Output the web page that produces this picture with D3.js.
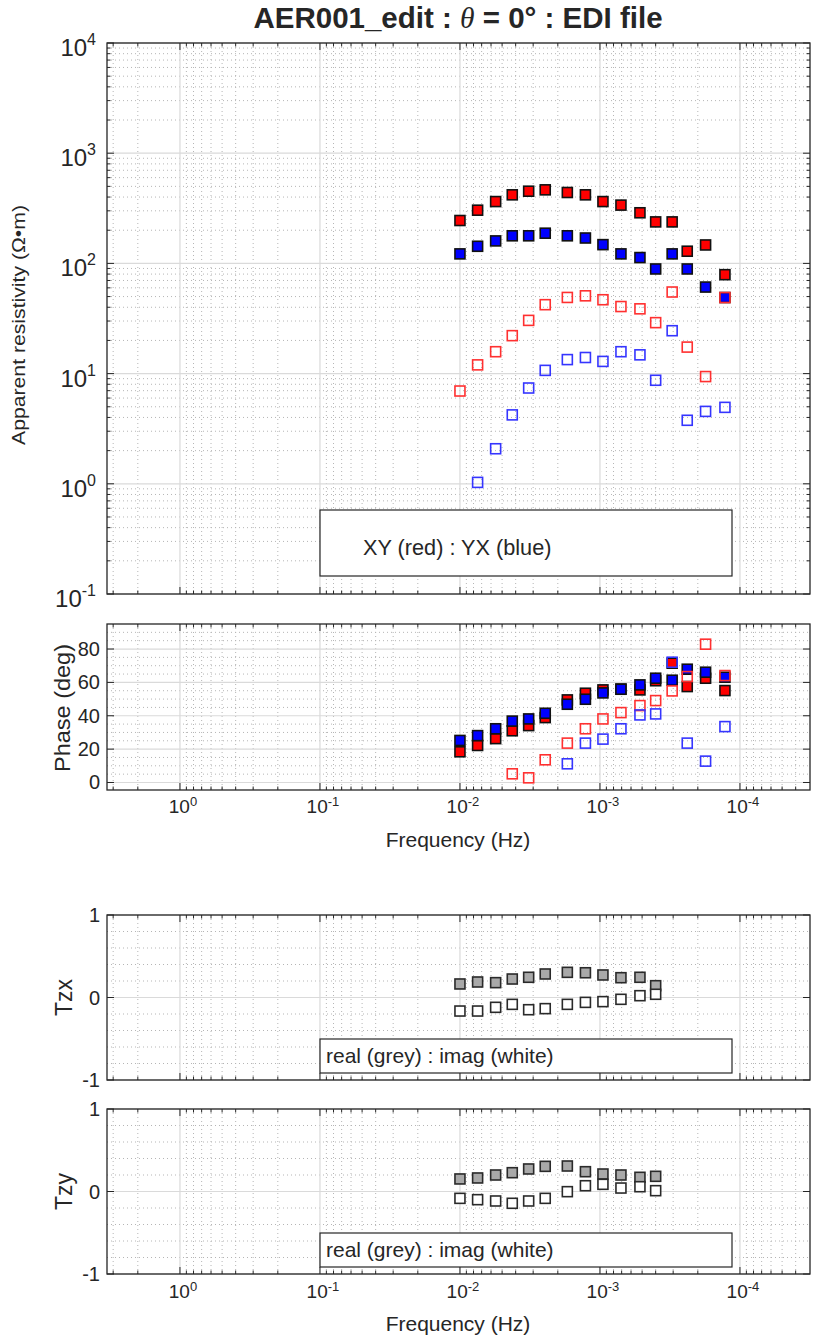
<!DOCTYPE html>
<html><head><meta charset="utf-8">
<script src="https://cdn.jsdelivr.net/npm/d3@7"></script>
<style>
body{margin:0;background:#fff}
text{font-family:"Liberation Sans",Arial,sans-serif;fill:#262626}
</style>
</head><body><svg id="c" width="817" height="1336"></svg>
<script>
// ---------------- data ----------------
const freqs = [0.0100, 0.00748, 0.00556, 0.00423, 0.00323, 0.00246, 0.00171, 0.00127,
               0.000952, 0.000708, 0.000518, 0.000400, 0.000305, 0.000238, 0.000176, 0.000128];
const rhoXY     = [245, 304, 364, 419, 452, 465, 440, 419, 364, 338, 288, 238, 238, 129, 147, 79];
const rhoYX     = [122, 143, 160, 178, 178, 188, 178, 170, 148, 122, 113, 89, 122, 89, 61, 49];
const rhoXYopen = [6.95, 12.0, 15.8, 22.1, 30.4, 42.2, 49.1, 50.8, 46.8, 40.6, 38.7, 29.0, 55.0, 17.4, 9.4, 49.0];
const rhoYXopen = [null, 1.03, 2.08, 4.22, 7.4, 10.7, 13.4, 14.0, 12.9, 15.8, 14.8, 8.7, 24.5, 3.77, 4.54, 4.94];
const phiXY     = [18.4, 22.2, 26.3, 31.0, 34.1, 38.9, 49.5, 53.5, 55.5, 56.0, 55.5, 61.0, 71.5, 57.5, 62.5, 55.1];
const phiYX     = [25.2, 28.1, 32.2, 36.8, 38.1, 41.5, 46.9, 49.9, 53.7, 55.9, 58.5, 62.5, 61.3, 67.9, 66.1, 63.1];
const phiXYopen = [null, null, null, 5.2, 2.8, 13.6, 23.6, 32.2, 38.1, 41.9, 46.1, 49.1, 54.9, 63.5, 82.9, 64.1];
const phiYXopen = [null, null, null, null, null, null, 11.2, 23.6, 26.0, 32.2, 40.5, 41.1, 72.1, 23.6, 12.8, 33.5];
const tzxRe = [0.164, 0.188, 0.180, 0.224, 0.245, 0.285, 0.305, 0.300, 0.273, 0.240, 0.245, 0.143];
const tzxIm = [-0.164, -0.164, -0.119, -0.083, -0.148, -0.135, -0.083, -0.059, -0.050, -0.022, 0.022, 0.039];
const tzyRe = [0.152, 0.164, 0.200, 0.228, 0.273, 0.305, 0.309, 0.240, 0.212, 0.200, 0.172, 0.184];
const tzyIm = [-0.083, -0.099, -0.115, -0.143, -0.115, -0.083, -0.002, 0.070, 0.087, 0.042, 0.058, 0.010];
const xTickExp = [0, -1, -2, -3, -4];
const rhoTickExp = [4, 3, 2, 1, 0, -1];
const phaseTicks = [0, 20, 40, 60, 80];
const tipTicks = [1, 0, -1];
const titleText = "AER001_edit : ";
const legendRho = "XY (red) : YX (blue)";
const legendTip = "real (grey) : imag (white)";

// ---------------- layout ----------------
const svg = d3.select("#c");
const X0 = 107, X1 = 810;
const x = d3.scaleLog().domain([3.32, 3.16e-5]).range([X0, X1]);
const AX = "#262626";

const majorX = [], minorX = [];
for (let d = -5; d <= 1; d++) {
  majorX.push(Math.pow(10, d));
  for (let k = 2; k <= 9; k++) minorX.push(k * Math.pow(10, d));
}
const [fLo, fHi] = [3.16e-5, 3.32];
const inX = v => v >= fLo * 0.999 && v <= fHi * 1.001;

function panel(y0, y1, y, yMajor, yMinor, yMinorTicks) {
  const g = svg.append("g");
  const mx = minorX.filter(inX), Mx = majorX.filter(inX);
  g.selectAll(null).data(mx).join("line")
    .attr("x1", d => x(d)).attr("x2", d => x(d)).attr("y1", y0).attr("y2", y1)
    .attr("stroke", "#b5b5b5").attr("stroke-width", 1).attr("stroke-dasharray", "1,3");
  g.selectAll(null).data(yMinor).join("line")
    .attr("x1", X0).attr("x2", X1).attr("y1", d => y(d)).attr("y2", d => y(d))
    .attr("stroke", "#b5b5b5").attr("stroke-width", 1).attr("stroke-dasharray", "1,3");
  g.selectAll(null).data(Mx).join("line")
    .attr("x1", d => x(d)).attr("x2", d => x(d)).attr("y1", y0).attr("y2", y1)
    .attr("stroke", "#dadada").attr("stroke-width", 1.2);
  g.selectAll(null).data(yMajor).join("line")
    .attr("x1", X0).attr("x2", X1).attr("y1", d => y(d)).attr("y2", d => y(d))
    .attr("stroke", "#dadada").attr("stroke-width", 1.2);
  const tk = (data, len) => {
    g.selectAll(null).data(data).join("path")
      .attr("d", d => `M${x(d)},${y1}v${-len}M${x(d)},${y0}v${len}`)
      .attr("stroke", AX).attr("stroke-width", 1);
  };
  tk(Mx, 7); tk(mx, 3.5);
  const tky = (data, len) => {
    g.selectAll(null).data(data).join("path")
      .attr("d", d => `M${X0},${y(d)}h${len}M${X1},${y(d)}h${-len}`)
      .attr("stroke", AX).attr("stroke-width", 1);
  };
  tky(yMajor, 7);
  if (yMinorTicks) tky(yMinor, 3.5);
  g.append("rect").attr("x", X0).attr("y", y0).attr("width", X1 - X0).attr("height", y1 - y0)
    .attr("fill", "none").attr("stroke", AX).attr("stroke-width", 1.3);
  return g;
}

function markers(g, xs, ys, y, opt) {
  const s = 10;
  const pts = xs.map((f, i) => [f, ys[i]]).filter(p => p[1] !== null && p[1] !== undefined);
  g.selectAll(null).data(pts).join("rect")
    .attr("x", d => x(d[0]) - s / 2).attr("y", d => y(d[1]) - s / 2)
    .attr("width", s).attr("height", s)
    .attr("fill", opt.fill).attr("stroke", opt.stroke).attr("stroke-width", 1.6);
}

function xTickLabels(yBase) {
  xTickExp.forEach(e => {
    const t = svg.append("text").attr("x", x(Math.pow(10, e)) + 3).attr("y", yBase)
      .attr("text-anchor", "middle").attr("font-size", 19);
    t.append("tspan").text("10");
    t.append("tspan").attr("font-size", 13).attr("dy", -7).text(String(e));
  });
}

// ---------------- title ----------------
const title = svg.append("text").attr("x", 458).attr("y", 28).attr("text-anchor", "middle")
  .attr("font-size", 29.5).attr("font-weight", "bold");
title.append("tspan").text(titleText);
title.append("tspan").attr("font-family", "'Liberation Serif',serif").attr("font-style", "italic").attr("font-weight", "normal").text("θ");
title.append("tspan").text(" = 0° : EDI file");

// ---------------- resistivity ----------------
const R0 = 43, R1 = 594;
const yR = d3.scaleLog().domain([0.1, 1e4]).range([R1, R0]);
const rMajor = rhoTickExp.map(e => Math.pow(10, e));
const rMinor = [];
for (let d = -1; d < 4; d++) for (let k = 2; k <= 9; k++) rMinor.push(k * Math.pow(10, d));
const gR = panel(R0, R1, yR, rMajor, rMinor, true);
markers(gR, freqs, rhoXY, yR, {fill: "#ff0000", stroke: "#111"});
markers(gR, freqs, rhoYX, yR, {fill: "#0000ff", stroke: "#111"});
markers(gR, freqs, rhoXYopen, yR, {fill: "none", stroke: "#ff3030"});
markers(gR, freqs, rhoYXopen, yR, {fill: "none", stroke: "#3535ff"});
rhoTickExp.forEach(e => {
  const t = svg.append("text").attr("x", 96).attr("y", yR(Math.pow(10, e)) + 13)
    .attr("text-anchor", "end").attr("font-size", 24);
  t.append("tspan").text("10");
  t.append("tspan").attr("font-size", 16).attr("dy", -11).text(String(e));
});
svg.append("text").attr("transform", `translate(25,325) rotate(-90)`)
  .attr("text-anchor", "middle").attr("font-size", 17.5)
  .attr("textLength", 240).attr("lengthAdjust", "spacingAndGlyphs")
  .text("Apparent resistivity (Ω•m)");
svg.append("rect").attr("x", 320).attr("y", 510).attr("width", 412).attr("height", 66)
  .attr("fill", "#fff").attr("stroke", AX).attr("stroke-width", 1.2);
svg.append("text").attr("x", 363).attr("y", 555).attr("font-size", 21.7).text(legendRho);

// ---------------- phase ----------------
const P0 = 624, P1 = 790;
const yP = d3.scaleLinear().domain([-4.5, 95]).range([P1, P0]);
const pMinor = d3.range(5, 95, 5).filter(v => v % 20 !== 0);
const gP = panel(P0, P1, yP, phaseTicks, pMinor, false);
markers(gP, freqs, phiXY, yP, {fill: "#ff0000", stroke: "#111"});
markers(gP, freqs, phiYX, yP, {fill: "#0000ff", stroke: "#111"});
markers(gP, freqs, phiXYopen, yP, {fill: "none", stroke: "#ff3030"});
markers(gP, freqs, phiYXopen, yP, {fill: "none", stroke: "#3535ff"});
phaseTicks.forEach(v => {
  svg.append("text").attr("x", 100).attr("y", yP(v) + 7).attr("text-anchor", "end")
    .attr("font-size", 20).text(String(v));
});
svg.append("text").attr("transform", `translate(70,${(P0 + P1) / 2 + 1}) rotate(-90)`)
  .attr("text-anchor", "middle").attr("font-size", 22).attr("textLength", 128)
  .attr("lengthAdjust", "spacingAndGlyphs").text("Phase (deg)");
xTickLabels(813);
svg.append("text").attr("x", 458).attr("y", 847).attr("text-anchor", "middle")
  .attr("font-size", 21).text("Frequency (Hz)");

// ---------------- tippers ----------------
function tipper(y0, y1, re, im, label) {
  const y = d3.scaleLinear().domain([-1, 1]).range([y1, y0]);
  const tMinor = [-0.8, -0.6, -0.4, -0.2, 0.2, 0.4, 0.6, 0.8];
  const g = panel(y0, y1, y, tipTicks, tMinor, false);
  const f = freqs.slice(0, re.length);
  markers(g, f, re, y, {fill: "#a9a9a9", stroke: "#2a2a2a"});
  markers(g, f, im, y, {fill: "#ffffff", stroke: "#2a2a2a"});
  tipTicks.forEach(v => {
    svg.append("text").attr("x", 100).attr("y", y(v) + 7).attr("text-anchor", "end")
      .attr("font-size", 20).text(String(v));
  });
  svg.append("text").attr("transform", `translate(72,${(y0 + y1) / 2}) rotate(-90)`)
    .attr("text-anchor", "middle").attr("font-size", 23).text(label);
  svg.append("rect").attr("x", 320).attr("y", y0 + 124).attr("width", 412).attr("height", 34)
    .attr("fill", "#fff").attr("stroke", AX).attr("stroke-width", 1.2);
  svg.append("text").attr("x", 326).attr("y", y0 + 148).attr("font-size", 21).text(legendTip);
}
tipper(915, 1080, tzxRe, tzxIm, "Tzx");
tipper(1109, 1274, tzyRe, tzyIm, "Tzy");
xTickLabels(1298);
svg.append("text").attr("x", 458).attr("y", 1331).attr("text-anchor", "middle")
  .attr("font-size", 21).text("Frequency (Hz)");
</script>
</body></html>
